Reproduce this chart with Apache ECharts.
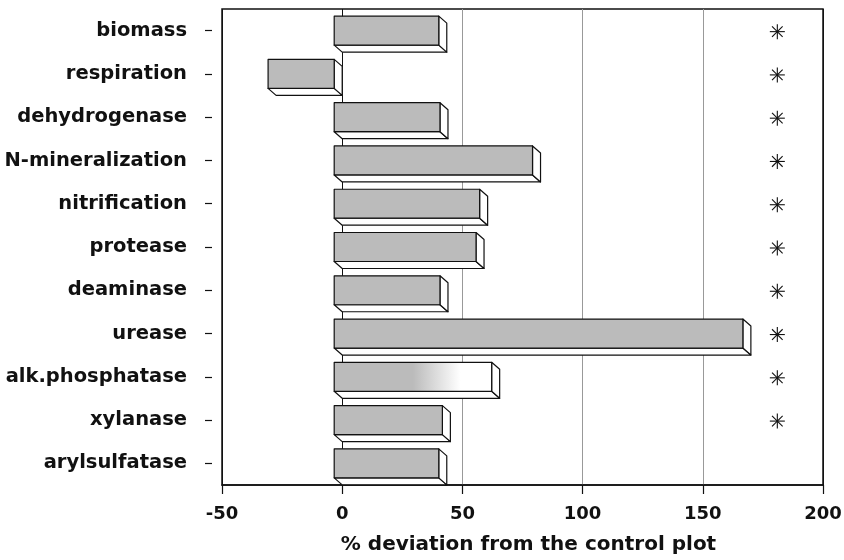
<!DOCTYPE html>
<html>
<head>
<meta charset="utf-8">
<script src="https://cdn.jsdelivr.net/npm/echarts@6/dist/echarts.min.js"></script>
<style>html,body{margin:0;padding:0;background:#fff}#c{width:844px;height:560px}</style>
</head>
<body>
<div id="c"></div>
<script>
const categories = ['biomass','respiration','dehydrogenase','N-mineralization','nitrification','protease','deaminase','urease','alk.phosphatase','xylanase','arylsulfatase'];
const deviation = [43.5, -27.5, 44, 82.5, 60.5, 59, 44, 170, 65.5, 45, 43.5];
const significant = [1,1,1,1,1,1,1,1,1,1,0];
const starPosition = 181;
const xTicks = [-50, 0, 50, 100, 150, 200];

const chart = echarts.init(document.getElementById('c'), null, {renderer: 'canvas'});
const FONT = 'DejaVu Sans';
const GRAY = '#bbbbbb';

function barItem(params, api) {
  const v = api.value(0), idx = api.value(1);
  const p0 = api.coord([0, idx]);
  const pv = api.coord([v, idx]);
  const band = api.size([0, 1])[1];
  const h = band * 0.67, dx = 8, dy = 7;
  const yc = p0[1];
  const top = yc - h / 2, bot = yc + h / 2;
  const xl = Math.min(p0[0], pv[0]) - dx, xr = Math.max(p0[0], pv[0]) - dx;
  const line = {stroke: '#111', lineWidth: 1.2, lineJoin: 'round'};
  let fill = GRAY;
  if (categories[idx] === 'alk.phosphatase') {
    fill = new echarts.graphic.LinearGradient(0, 0, 1, 0, [
      {offset: 0, color: GRAY}, {offset: 0.5, color: GRAY}, {offset: 0.8, color: '#ffffff'}, {offset: 1, color: '#ffffff'}
    ]);
  }
  return {
    type: 'group',
    children: [
      {type: 'polygon', shape: {points: [[xl, bot], [xr, bot], [xr + dx, bot + dy], [xl + dx, bot + dy]]}, style: Object.assign({fill: '#fff'}, line)},
      {type: 'polygon', shape: {points: [[xr, top], [xr + dx, top + dy], [xr + dx, bot + dy], [xr, bot]]}, style: Object.assign({fill: '#fff'}, line)},
      {type: 'rect', shape: {x: xl, y: top, width: xr - xl, height: h}, style: Object.assign({fill: fill}, line)}
    ]
  };
}

function starItem(params, api) {
  const p = api.coord([api.value(0), api.value(1)]);
  const r = 7.5, d = r * Math.SQRT1_2;
  const st = {stroke: '#111', lineWidth: 1.1};
  const seg = (x1, y1, x2, y2) => ({type: 'line', shape: {x1: p[0] + x1, y1: p[1] + 1 + y1, x2: p[0] + x2, y2: p[1] + 1 + y2}, style: st});
  return {type: 'group', children: [seg(0, -r, 0, r), seg(-r, 0, r, 0), seg(-d, -d, d, d), seg(-d, d, d, -d)]};
}

const barData = deviation.map((v, i) => [v, i]);
const starData = [];
significant.forEach((s, i) => { if (s) starData.push([starPosition, i]); });

chart.setOption({
  animation: false,
  grid: {left: 222, right: 21, top: 9, bottom: 75, show: true, borderColor: '#111', borderWidth: 1.5, containLabel: false, outerBoundsMode: 'none'},
  xAxis: {
    type: 'value', min: xTicks[0], max: xTicks[xTicks.length - 1], interval: 50,
    name: '% deviation from the control plot', nameLocation: 'middle', nameGap: 50,
    nameTextStyle: {fontFamily: FONT, fontSize: 20, fontWeight: 'bold', color: '#111', padding: [0, 0, 0, 12]},
    axisLine: {show: true, onZero: false, lineStyle: {color: '#111', width: 1.5}},
    axisTick: {show: true, length: 9, lineStyle: {color: '#111', width: 1.2}},
    axisLabel: {margin: 20, fontFamily: FONT, fontSize: 18, fontWeight: 'bold', color: '#111'},
    splitLine: {show: true, lineStyle: {color: ['#111', '#111', '#999', '#999', '#999', '#111'], width: 1}}
  },
  yAxis: {
    type: 'category', data: categories, inverse: true, offset: 10,
    axisLine: {show: true, onZero: false, lineStyle: {color: 'rgba(0,0,0,0)', width: 1}},
    axisTick: {show: true, alignWithLabel: true, length: 7, lineStyle: {color: '#111', width: 1.2}},
    axisLabel: {margin: 25, fontFamily: FONT, fontSize: 19.5, fontWeight: 'bold', color: '#111'},
    splitLine: {show: false}
  },
  series: [
    {type: 'custom', name: 'deviation', renderItem: barItem, data: barData, encode: {x: 0, y: 1}, z: 3},
    {type: 'custom', name: 'significance', renderItem: starItem, data: starData, encode: {x: 0, y: 1}, z: 4}
  ]
});
</script>
</body>
</html>
